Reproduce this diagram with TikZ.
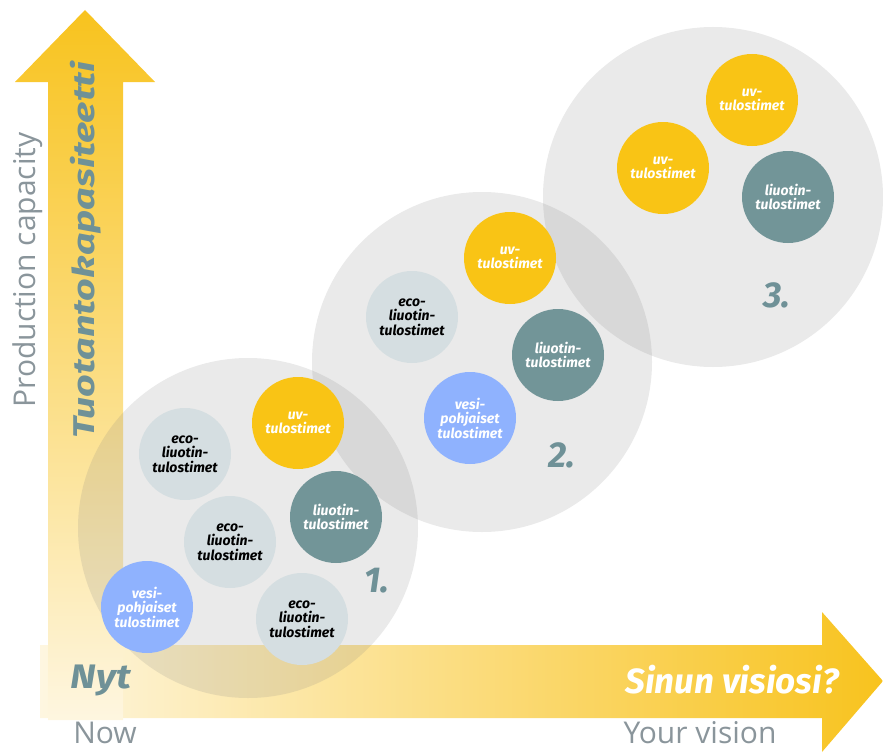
\documentclass[tikz,border=0pt]{standalone}
\usepackage{fontspec}
\setmainfont{Open Sans}
\newfontfamily\boldfont{Fira Sans}
\usetikzlibrary{shapes.geometric}
\definecolor{arrowyellow}{HTML}{F8C31E}
\definecolor{arrowpale}{HTML}{FEF6E0}
\definecolor{uvyellow}{HTML}{F9C415}
\definecolor{solventteal}{HTML}{729598}
\definecolor{ecogray}{HTML}{D5DEE1}
\definecolor{waterblue}{HTML}{8FB2FE}
\definecolor{labelteal}{HTML}{6F9197}
\definecolor{textgray}{HTML}{8A959B}

\begin{document}
\begin{tikzpicture}[x=1pt,y=-1pt]
        \tikzstyle{stage} = [circle, fill=gray, fill opacity=0.17, minimum size=340pt, inner sep=0pt]
        \tikzstyle{printer} = [circle, minimum size=92pt, inner sep=0pt, align=center, font=\boldfont\bfseries\itshape\fontsize{14}{14.5}\selectfont]
        \tikzstyle{uv} = [printer, fill=uvyellow, text=white]
        \tikzstyle{solvent} = [printer, fill=solventteal, text=white]
        \tikzstyle{eco} = [printer, fill=ecogray, text=black]
        \tikzstyle{water} = [printer, fill=waterblue, text=white]
        \tikzstyle{number} = [font=\boldfont\bfseries\itshape\fontsize{36}{36}\selectfont, text=labelteal]
        \tikzstyle{axis} = [font=\fontsize{30}{30}\selectfont, text=textgray]
        \useasboundingbox (0,0) rectangle (883,752);
        % axes
        \shade[left color=arrowpale, right color=arrowyellow] (40,645) -- (822,645) -- (822,612) -- (883,681) -- (822,752) -- (822,718) -- (40,718) -- cycle;
        \shade[top color=arrowyellow, bottom color=arrowpale] (48,720) -- (48,82) -- (15,82) -- (85,10) -- (155,82) -- (123,82) -- (123,720) -- cycle;
        % stages
        \node [stage] (s1) at (248,528) {};
        \node [stage] (s2) at (482,362) {};
        \node [stage] (s3) at (713,197) {};
        % stage 1
        \node [eco] (1) at (185,454) {eco-\\liuotin-\\tulostimet};
        \node [uv] (2) at (298,423) {uv-\\tulostimet};
        \node [solvent] (3) at (336,517) {liuotin-\\tulostimet};
        \node [eco] (4) at (230,542) {eco-\\liuotin-\\tulostimet};
        \node [water] (5) at (147,607) {vesi-\\pohjaiset\\tulostimet};
        \node [eco] (6) at (302,619) {eco-\\liuotin-\\tulostimet};
        \node [number] (n1) at (377,581) {1.};
        % stage 2
        \node [uv] (7) at (510,258) {uv-\\tulostimet};
        \node [eco] (8) at (412,317) {eco-\\liuotin-\\tulostimet};
        \node [solvent] (9) at (558,355) {liuotin-\\tulostimet};
        \node [water] (10) at (470,418) {vesi-\\pohjaiset\\tulostimet};
        \node [number] (n2) at (562,455) {2.};
        % stage 3
        \node [uv] (11) at (752,100) {uv-\\tulostimet};
        \node [uv] (12) at (663,168) {uv-\\tulostimet};
        \node [solvent] (13) at (788,197) {liuotin-\\tulostimet};
        \node [number] (n3) at (777,295) {3.};
        % labels
        \node [axis, rotate=90] (ylab) at (28,270) {Production capacity};
        \node [number, rotate=90, font=\boldfont\bfseries\itshape\fontsize{30}{30}\selectfont] (yfi) at (86,250) {\scalebox{1.32}[1]{Tuotantokapasiteetti}};
        \node [number, font=\boldfont\bfseries\itshape\fontsize{34}{34}\selectfont] (now) at (101,680) {\scalebox{1.15}[1]{Nyt}};
        \node [font=\boldfont\bfseries\itshape\fontsize{35}{35}\selectfont, text=white] (vision) at (732,680) {Sinun visiosi?};
        \node [axis] (nowen) at (105,733) {Now};
        \node [axis] (visionen) at (700,733) {Your vision};
\end{tikzpicture}
\end{document}
